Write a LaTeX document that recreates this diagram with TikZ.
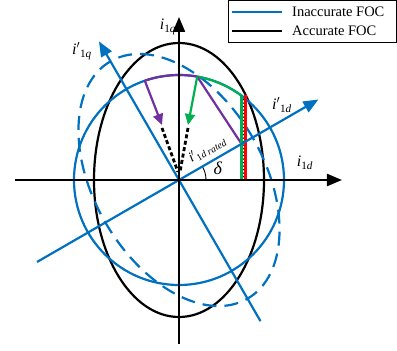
\documentclass[tikz,border=0pt]{standalone}
\usepackage{fontspec}
\setmainfont{Liberation Serif}
\usetikzlibrary{arrows.meta, calc}

\definecolor{focblue}{RGB}{0,112,192}
\definecolor{focgreen}{RGB}{0,176,80}
\definecolor{focpurple}{RGB}{112,48,160}
\definecolor{focred}{RGB}{255,0,0}

% current label: i, optional prime, subscript 1 + axis letter
\newcommand{\curlab}[2]{\textit{i}#1\textsubscript{1\textit{#2}}}

\begin{document}
\begin{tikzpicture}[x=1pt, y=1pt,
        curve/.style={line width=2.2pt},
        axis/.style={curve, -{Triangle[length=15pt, width=12pt]}},
        raxis/.style={axis, draw=focblue},
        dashcurve/.style={curve, draw=focblue, dash pattern=on 14pt off 8pt},
        move/.style={curve, -{Triangle[length=11pt, width=10pt]}},
        trail/.style={line width=2.8pt, dash pattern=on 4pt off 2.5pt},
        hatch/.style={line width=0.8pt},
        lab/.style={font=\fontsize{16}{18}\selectfont, inner sep=1pt}
    ]
    \useasboundingbox (-179,-171) rectangle (218,180);

    % Points
    \coordinate (O) at (0,0);
    \coordinate (dL) at (-164,0);
    \coordinate (dR) at (163,0);
    \coordinate (qB) at (0,-164);
    \coordinate (qT) at (0,163);
    \coordinate (dpL) at (210:164);
    \coordinate (dpR) at (30:161);
    \coordinate (qpB) at (-60:163);
    \coordinate (qpT) at (120:160);
    \coordinate (pA) at (109:105);
    \coordinate (gA) at (80:105);
    \coordinate (gB) at (53.5:105);
    \coordinate (rT) at (66.5,85.3);
    \coordinate (pF) at (62.5,36.1);
    \coordinate (pE) at (-17,55);
    \coordinate (gE) at (9,55);

    % Current limit curves
    \draw[curve] (O) ellipse[x radius=85, y radius=137];
    \draw[curve, draw=focblue] (O) circle[radius=105];
    \draw[dashcurve, rotate=30] (O) ellipse[x radius=85, y radius=137];

    % Trajectories
    \draw[curve, draw=focpurple] (pA) arc[start angle=109, end angle=80, radius=105];
    \draw[curve, draw=focgreen] (gA) arc[start angle=80, end angle=53.5, radius=105];
    \draw[curve, draw=focpurple] (gA) -- (pF);
    \foreach \y in {2,5.5,...,80}
        \draw[hatch] (63.2,\y) -- (66,\y+3);
    \draw[curve, draw=focgreen] (gB) -- (gB |- O);
    \draw[curve, draw=focred] (rT) -- (rT |- O);
    \draw[move, draw=focpurple, fill=focpurple] (pA) -- (pE);
    \draw[move, draw=focgreen, fill=focgreen] (gA) -- (gE);
    \draw[trail] (-17,52) -- (-1,8);
    \draw[trail] (9,52) -- (1,8);
    \draw[line width=0.9pt] (27,0) arc[start angle=0, end angle=30, radius=27];

    % Axes
    \draw[raxis] (dpL) -- (dpR);
    \draw[raxis] (qpB) -- (qpT);
    \draw[axis] (dL) -- (dR);
    \draw[axis] (qB) -- (qT);

    % Labels
    \node[lab] (lq) at (-11,153) {\curlab{}{q}};
    \node[lab] (lqp) at (-97,129) {\curlab{$'$}{q}};
    \node[lab] (ldp) at (103,75) {\curlab{$'$}{d}};
    \node[lab] (ld) at (126,17) {\curlab{}{d}};
    \node[lab, font=\fontsize{18}{20}\selectfont] (ldelta) at (39,12) {\textit{δ}};
    \node[lab, rotate=30, font=\fontsize{14}{16}\selectfont] (lrated) at (28,31) {\textit{i}$'$\textsubscript{1\textit{d rated}}};

    % Legend
    \draw[line width=0.8pt, fill=white] (49,138) rectangle (217,180);
    \coordinate (lgA) at (53,168);
    \coordinate (lgB) at (103,168);
    \coordinate (lgC) at (53,149);
    \coordinate (lgD) at (103,149);
    \draw[curve, draw=focblue] (lgA) -- (lgB);
    \draw[curve] (lgC) -- (lgD);
    \node[lab, anchor=west, font=\fontsize{14.5}{16}\selectfont] (inacc) at (112,168) {Inaccurate FOC};
    \node[lab, anchor=west, font=\fontsize{14.5}{16}\selectfont] (acc) at (112,149) {Accurate FOC};
\end{tikzpicture}
\end{document}
